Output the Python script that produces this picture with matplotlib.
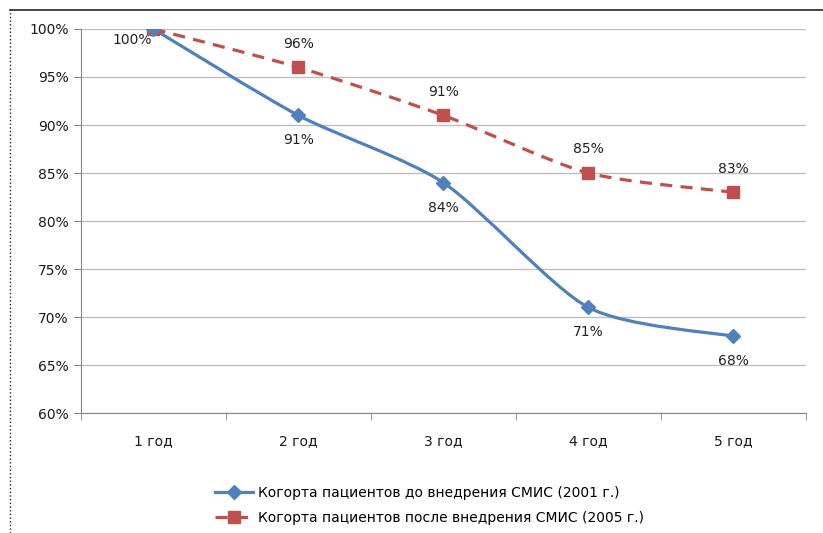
import matplotlib
matplotlib.use('Agg')
import matplotlib.pyplot as plt
from matplotlib.path import Path
from matplotlib.patches import PathPatch
from matplotlib.lines import Line2D
import numpy as np

categories = ['1 год', '2 год', '3 год', '4 год', '5 год']
before_2001 = [100, 91, 84, 71, 68]
after_2005 = [100, 96, 91, 85, 83]
label_before = 'Когорта пациентов до внедрения СМИС (2001 г.)'
label_after = 'Когорта пациентов после внедрения СМИС (2005 г.)'

BLUE = '#4F81BD'
RED = '#C0504D'


def smooth_path(xs, ys, k=8.0):
    # Excel-like smoothed line: Catmull-Rom turned into cubic Bezier segments
    pts = np.column_stack([xs, ys]).astype(float)
    verts = [pts[0]]
    codes = [Path.MOVETO]
    n = len(pts)
    for i in range(n - 1):
        p0 = pts[i - 1] if i > 0 else pts[i]
        p1 = pts[i]
        p2 = pts[i + 1]
        p3 = pts[i + 2] if i + 2 < n else pts[i + 1]
        c1 = p1 + (p2 - p0) / k
        c2 = p2 - (p3 - p1) / k
        verts += [c1, c2, p2]
        codes += [Path.CURVE4] * 3
    return Path(verts, codes)


fig = plt.figure(figsize=(8.23, 5.33), dpi=100)
ax = fig.add_axes([0.0984, 0.2251, 0.8806, 0.7205])

x = np.arange(len(categories))

# lines
ax.add_patch(PathPatch(smooth_path(x, before_2001), fill=False, edgecolor=BLUE,
                       lw=2.3, zorder=3, capstyle='round'))
ax.add_patch(PathPatch(smooth_path(x, after_2005), fill=False, edgecolor=RED,
                       lw=2.3, ls=(0, (3.8, 2.6)), zorder=3))

ax.plot(x, after_2005, ls='none', marker='s', ms=8.5, color=RED, zorder=4)
ax.plot(x, before_2001, ls='none', marker='D', ms=7.5, color=BLUE, zorder=5)

# data labels
for i, v in enumerate(before_2001):
    if i == 0:
        ax.annotate(f'{v}%', (x[i], v), xytext=(-15, -8), textcoords='offset points',
                    ha='center', va='center', fontsize=10, color='#222222')
    else:
        ax.annotate(f'{v}%', (x[i], v), xytext=(0, -18), textcoords='offset points',
                    ha='center', va='center', fontsize=10, color='#222222')
for i, v in enumerate(after_2005):
    if i == 0:
        continue
    ax.annotate(f'{v}%', (x[i], v), xytext=(0, 17), textcoords='offset points',
                ha='center', va='center', fontsize=10, color='#222222')

ax.set_xlim(-0.5, len(categories) - 0.5)
ax.set_ylim(60, 100)
ax.set_yticks(np.arange(60, 101, 5))
ax.set_yticklabels([f'{t}%' for t in range(60, 101, 5)], fontsize=10, color='#1a1a1a')
ax.set_xticks(x)
ax.set_xticklabels(categories, fontsize=10, color='#1a1a1a')
ax.set_xticks(np.arange(-0.5, len(categories)), minor=True)
ax.tick_params(axis='x', which='major', length=0, pad=15)
ax.tick_params(axis='x', which='minor', length=5, color='#868686')
ax.tick_params(axis='y', length=5, color='#868686', pad=4)

ax.grid(axis='y', color='#BFBFBF', lw=1)
ax.set_axisbelow(True)
for s in ['top', 'right']:
    ax.spines[s].set_visible(False)
ax.spines['left'].set_color('#868686')
ax.spines['bottom'].set_color('#868686')

handles = [
    Line2D([], [], color=BLUE, lw=2.3, marker='D', ms=7),
    Line2D([], [], color=RED, lw=2.3, ls=(0, (3.8, 2.6)), marker='s', ms=8),
]
fig.legend(handles, [label_before, label_after], loc='center',
           bbox_to_anchor=(0.522, 0.0515), frameon=False, handlelength=2.7,
           handletextpad=0.4, labelspacing=0.75, prop={'size': 10})

# chart border (cropped)
fig.add_artist(Line2D([0.012, 1.0], [0.981, 0.981], color='#222222', lw=1.2))
fig.add_artist(Line2D([0.012, 0.012], [0.0, 0.981], color='#222222', lw=1.0, ls=':'))

fig.savefig('out.png', dpi=100)
